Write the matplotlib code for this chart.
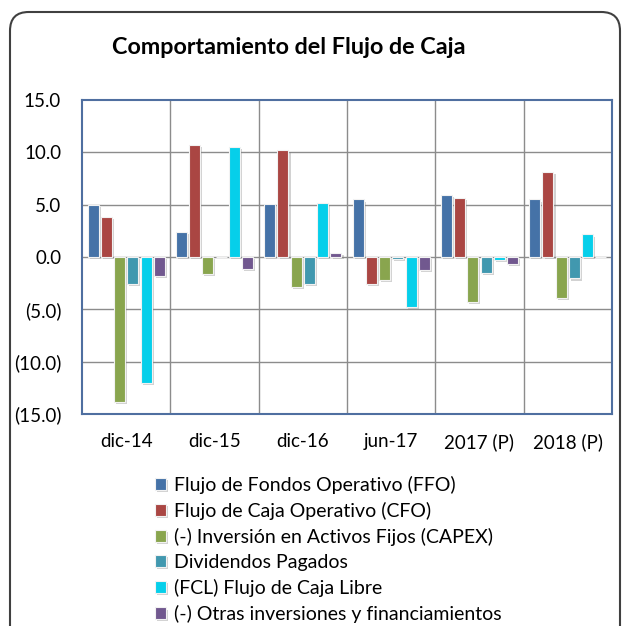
import numpy as np
from matplotlib import pyplot as plt
from matplotlib.patches import FancyBboxPatch
from matplotlib.ticker import FuncFormatter
import matplotlib.patheffects as pe

plt.rcParams['font.family'] = ['Lato', 'DejaVu Sans']

periodos = ['dic-14', 'dic-15', 'dic-16', 'jun-17', '2017 (P)', '2018 (P)']
ffo = [5.0, 2.4, 5.1, 5.5, 5.9, 5.5]
cfo = [3.8, 10.7, 10.2, -2.6, 5.6, 8.1]
capex = [-13.85, -1.6, -2.9, -2.2, -4.3, -3.95]
dividendos = [-2.55, 0.0, -2.55, -0.15, -1.55, -2.05]
fcl = [-12.0, 10.5, 5.2, -4.8, -0.3, 2.15]
otras = [-1.8, -1.1, 0.35, -1.2, -0.7, 0.0]

series = [ffo, cfo, capex, dividendos, fcl, otras]
nombres = ['Flujo de Fondos Operativo (FFO)',
           'Flujo de Caja Operativo (CFO)',
           '(-) Inversión en Activos Fijos (CAPEX)',
           'Dividendos Pagados',
           '(FCL) Flujo de Caja Libre',
           '(-) Otras inversiones y financiamientos']
colores = ['#4572A7', '#AA4643', '#89A54E', '#4198AF', '#06CFEA', '#71588F']

fig = plt.figure(figsize=(6.22, 6.26), dpi=100)

# marco redondeado
borde = FancyBboxPatch((10/622, -0.05), 610/622, (626-12)/626 + 0.05,
                       boxstyle="round,pad=0,rounding_size=0.03",
                       transform=fig.transFigure, facecolor='white',
                       edgecolor='#404040', linewidth=1.5, zorder=-1)
fig.patches.append(borde)

ax = fig.add_axes([82/622, 212/626, 530/622, 314/626])
ax.set_zorder(2)
ax.set_facecolor('none')

x = np.arange(len(periodos))
paso = 0.15
ancho = 0.125
sombra = [pe.SimplePatchShadow(offset=(1.5, -1.5), shadow_rgbFace='#808080', alpha=0.35), pe.Normal()]
for i, (vals, nom, col) in enumerate(zip(series, nombres, colores)):
    pos = x + (i - 2.5) * paso
    barras = ax.bar(pos, vals, width=ancho, color=col, edgecolor='#f2f2f2',
                    linewidth=0.8, label=nom, zorder=3)
    for b in barras:
        b.set_path_effects(sombra)

ax.set_ylim(-15, 15)
ax.set_yticks(np.arange(-15, 16, 5))
ax.yaxis.set_major_formatter(FuncFormatter(
    lambda v, p: f"({abs(v):.1f})" if v < 0 else f"{v:.1f}"))
ax.set_xlim(-0.5, len(periodos) - 0.5)
ax.set_xticks(x)
ax.set_xticklabels(periodos)
ax.tick_params(axis='both', length=0, labelsize=13.5)
ax.tick_params(axis='y', pad=15)
ax.tick_params(axis='x', pad=14)

for y in np.arange(-10, 15, 5):
    ax.axhline(y, color='#8c8c8c', linewidth=1, zorder=1)
for k in range(1, len(periodos)):
    ax.axvline(k - 0.5, color='#8c8c8c', linewidth=1, zorder=1)

for s in ax.spines.values():
    s.set_color('#4F6FA0')
    s.set_linewidth(1.5)

fig.text(289/622, 1 - 47/626, 'Comportamiento del Flujo de Caja',
         ha='center', va='center', fontsize=16.8, fontweight='bold')

fig.legend(loc='upper left', bbox_to_anchor=(155/622, 1 - 476/626),
           frameon=False, fontsize=14, handlelength=0.55, handleheight=0.55,
           handletextpad=0.45, labelspacing=0.41, borderpad=0, borderaxespad=0)

plt.savefig('out.png', dpi=100)
